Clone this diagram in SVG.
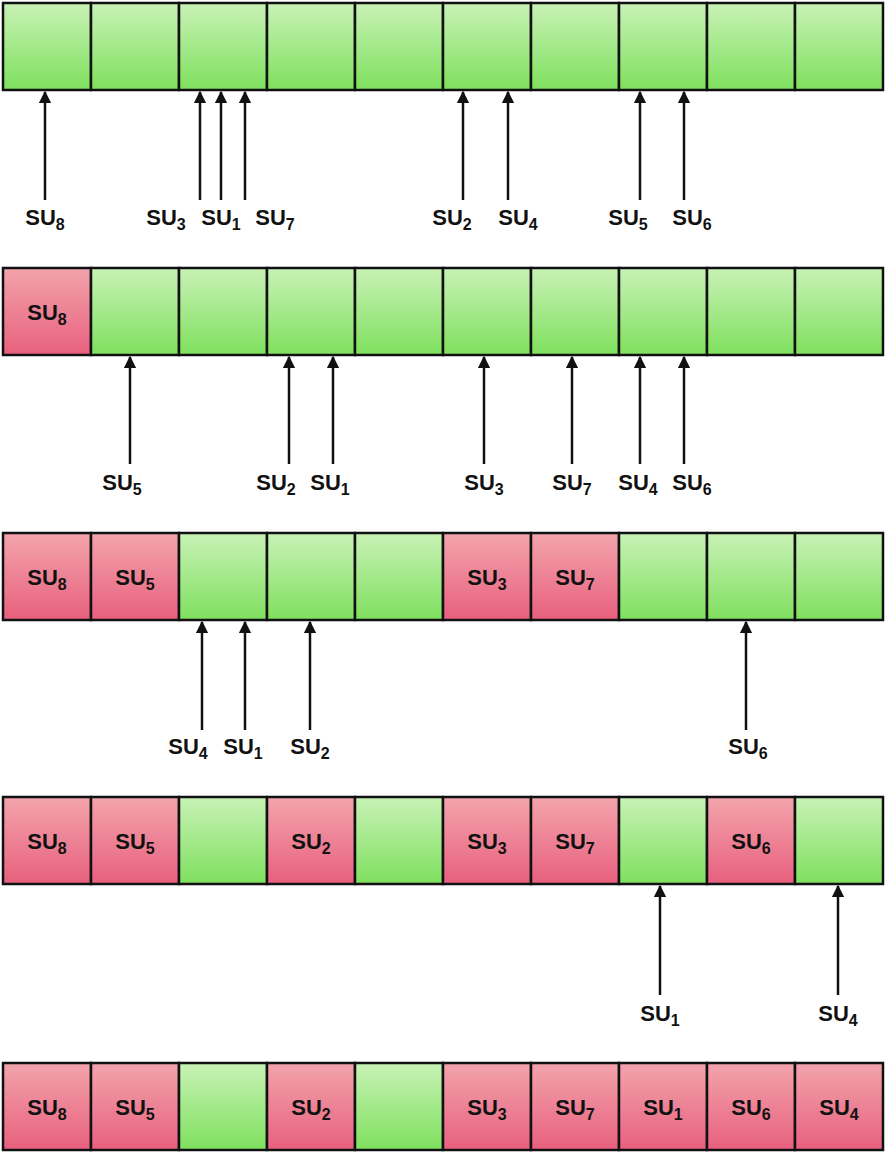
<svg xmlns="http://www.w3.org/2000/svg" width="886" height="1157" viewBox="0 0 886 1157">
<defs>
<linearGradient id="g" x1="0" y1="0" x2="0" y2="1"><stop offset="0" stop-color="#c8f2b6"/><stop offset="1" stop-color="#7fe05e"/></linearGradient>
<linearGradient id="r" x1="0" y1="0" x2="0" y2="1"><stop offset="0" stop-color="#f2a4ac"/><stop offset="1" stop-color="#e8607e"/></linearGradient>
<marker id="a" viewBox="0 0 10 10" refX="9" refY="5" markerWidth="5" markerHeight="5" orient="auto"><path d="M0,0 L10,5 L0,10 z" fill="#111"/></marker>
</defs>
<style>
.gc{fill:url(#g);stroke:#111;stroke-width:2.5}
.rc{fill:url(#r);stroke:#111;stroke-width:2.5}
text{font-family:"Liberation Sans",Arial,sans-serif;font-weight:bold;font-size:22px;fill:#111;text-anchor:middle}
.s{font-size:16px}
line{stroke:#111;stroke-width:2.5;marker-end:url(#a)}
</style>
<rect width="886" height="1157" fill="#fff"/>
<g id="row1">
<rect class="gc" x="3" y="3" width="88" height="87"/><rect class="gc" x="91" y="3" width="88" height="87"/><rect class="gc" x="179" y="3" width="88" height="87"/><rect class="gc" x="267" y="3" width="88" height="87"/><rect class="gc" x="355" y="3" width="88" height="87"/><rect class="gc" x="443" y="3" width="88" height="87"/><rect class="gc" x="531" y="3" width="88" height="87"/><rect class="gc" x="619" y="3" width="88" height="87"/><rect class="gc" x="707" y="3" width="88" height="87"/><rect class="gc" x="795" y="3" width="88" height="87"/>
</g>
<g id="row2">
<rect class="rc" x="3" y="268" width="88" height="87"/><rect class="gc" x="91" y="268" width="88" height="87"/><rect class="gc" x="179" y="268" width="88" height="87"/><rect class="gc" x="267" y="268" width="88" height="87"/><rect class="gc" x="355" y="268" width="88" height="87"/><rect class="gc" x="443" y="268" width="88" height="87"/><rect class="gc" x="531" y="268" width="88" height="87"/><rect class="gc" x="619" y="268" width="88" height="87"/><rect class="gc" x="707" y="268" width="88" height="87"/><rect class="gc" x="795" y="268" width="88" height="87"/>
<text x="47" y="320">SU<tspan class="s" dy="5">8</tspan></text>
</g>
<g id="row3">
<rect class="rc" x="3" y="533" width="88" height="87"/><rect class="rc" x="91" y="533" width="88" height="87"/><rect class="gc" x="179" y="533" width="88" height="87"/><rect class="gc" x="267" y="533" width="88" height="87"/><rect class="gc" x="355" y="533" width="88" height="87"/><rect class="rc" x="443" y="533" width="88" height="87"/><rect class="rc" x="531" y="533" width="88" height="87"/><rect class="gc" x="619" y="533" width="88" height="87"/><rect class="gc" x="707" y="533" width="88" height="87"/><rect class="gc" x="795" y="533" width="88" height="87"/>
<text x="47" y="585">SU<tspan class="s" dy="5">8</tspan></text><text x="135" y="585">SU<tspan class="s" dy="5">5</tspan></text><text x="487" y="585">SU<tspan class="s" dy="5">3</tspan></text><text x="575" y="585">SU<tspan class="s" dy="5">7</tspan></text>
</g>
<g id="row4">
<rect class="rc" x="3" y="797" width="88" height="87"/><rect class="rc" x="91" y="797" width="88" height="87"/><rect class="gc" x="179" y="797" width="88" height="87"/><rect class="rc" x="267" y="797" width="88" height="87"/><rect class="gc" x="355" y="797" width="88" height="87"/><rect class="rc" x="443" y="797" width="88" height="87"/><rect class="rc" x="531" y="797" width="88" height="87"/><rect class="gc" x="619" y="797" width="88" height="87"/><rect class="rc" x="707" y="797" width="88" height="87"/><rect class="gc" x="795" y="797" width="88" height="87"/>
<text x="47" y="849">SU<tspan class="s" dy="5">8</tspan></text><text x="135" y="849">SU<tspan class="s" dy="5">5</tspan></text><text x="311" y="849">SU<tspan class="s" dy="5">2</tspan></text><text x="487" y="849">SU<tspan class="s" dy="5">3</tspan></text><text x="575" y="849">SU<tspan class="s" dy="5">7</tspan></text><text x="751" y="849">SU<tspan class="s" dy="5">6</tspan></text>
</g>
<g id="row5">
<rect class="rc" x="3" y="1063" width="88" height="87"/><rect class="rc" x="91" y="1063" width="88" height="87"/><rect class="gc" x="179" y="1063" width="88" height="87"/><rect class="rc" x="267" y="1063" width="88" height="87"/><rect class="gc" x="355" y="1063" width="88" height="87"/><rect class="rc" x="443" y="1063" width="88" height="87"/><rect class="rc" x="531" y="1063" width="88" height="87"/><rect class="rc" x="619" y="1063" width="88" height="87"/><rect class="rc" x="707" y="1063" width="88" height="87"/><rect class="rc" x="795" y="1063" width="88" height="87"/>
<text x="47" y="1115">SU<tspan class="s" dy="5">8</tspan></text><text x="135" y="1115">SU<tspan class="s" dy="5">5</tspan></text><text x="311" y="1115">SU<tspan class="s" dy="5">2</tspan></text><text x="487" y="1115">SU<tspan class="s" dy="5">3</tspan></text><text x="575" y="1115">SU<tspan class="s" dy="5">7</tspan></text><text x="663" y="1115">SU<tspan class="s" dy="5">1</tspan></text><text x="751" y="1115">SU<tspan class="s" dy="5">6</tspan></text><text x="839" y="1115">SU<tspan class="s" dy="5">4</tspan></text>
</g>
<g id="connectors">
<line x1="45" y1="200" x2="45" y2="92"/><line x1="200" y1="200" x2="200" y2="92"/><line x1="221" y1="200" x2="221" y2="92"/><line x1="245" y1="200" x2="245" y2="92"/><line x1="463" y1="200" x2="463" y2="92"/><line x1="508" y1="200" x2="508" y2="92"/><line x1="640" y1="200" x2="640" y2="92"/><line x1="684" y1="200" x2="684" y2="92"/>
<line x1="130" y1="464" x2="130" y2="357"/><line x1="289" y1="464" x2="289" y2="357"/><line x1="333" y1="464" x2="333" y2="357"/><line x1="484" y1="464" x2="484" y2="357"/><line x1="572" y1="464" x2="572" y2="357"/><line x1="640" y1="464" x2="640" y2="357"/><line x1="684" y1="464" x2="684" y2="357"/>
<line x1="202" y1="730" x2="202" y2="622"/><line x1="245" y1="730" x2="245" y2="622"/><line x1="310" y1="730" x2="310" y2="622"/><line x1="746" y1="730" x2="746" y2="622"/>
<line x1="660" y1="995" x2="660" y2="886"/><line x1="838" y1="995" x2="838" y2="886"/>
</g>
<g id="labels">
<text x="45" y="225">SU<tspan class="s" dy="5">8</tspan></text><text x="166" y="225">SU<tspan class="s" dy="5">3</tspan></text><text x="221" y="225">SU<tspan class="s" dy="5">1</tspan></text><text x="275" y="225">SU<tspan class="s" dy="5">7</tspan></text><text x="452" y="225">SU<tspan class="s" dy="5">2</tspan></text><text x="518" y="225">SU<tspan class="s" dy="5">4</tspan></text><text x="628" y="225">SU<tspan class="s" dy="5">5</tspan></text><text x="692" y="225">SU<tspan class="s" dy="5">6</tspan></text>
<text x="122" y="490">SU<tspan class="s" dy="5">5</tspan></text><text x="276" y="490">SU<tspan class="s" dy="5">2</tspan></text><text x="330" y="490">SU<tspan class="s" dy="5">1</tspan></text><text x="484" y="490">SU<tspan class="s" dy="5">3</tspan></text><text x="572" y="490">SU<tspan class="s" dy="5">7</tspan></text><text x="638" y="490">SU<tspan class="s" dy="5">4</tspan></text><text x="692" y="490">SU<tspan class="s" dy="5">6</tspan></text>
<text x="188" y="754">SU<tspan class="s" dy="5">4</tspan></text><text x="243" y="754">SU<tspan class="s" dy="5">1</tspan></text><text x="310" y="754">SU<tspan class="s" dy="5">2</tspan></text><text x="748" y="754">SU<tspan class="s" dy="5">6</tspan></text>
<text x="660" y="1021">SU<tspan class="s" dy="5">1</tspan></text><text x="838" y="1021">SU<tspan class="s" dy="5">4</tspan></text>
</g>
</svg>
